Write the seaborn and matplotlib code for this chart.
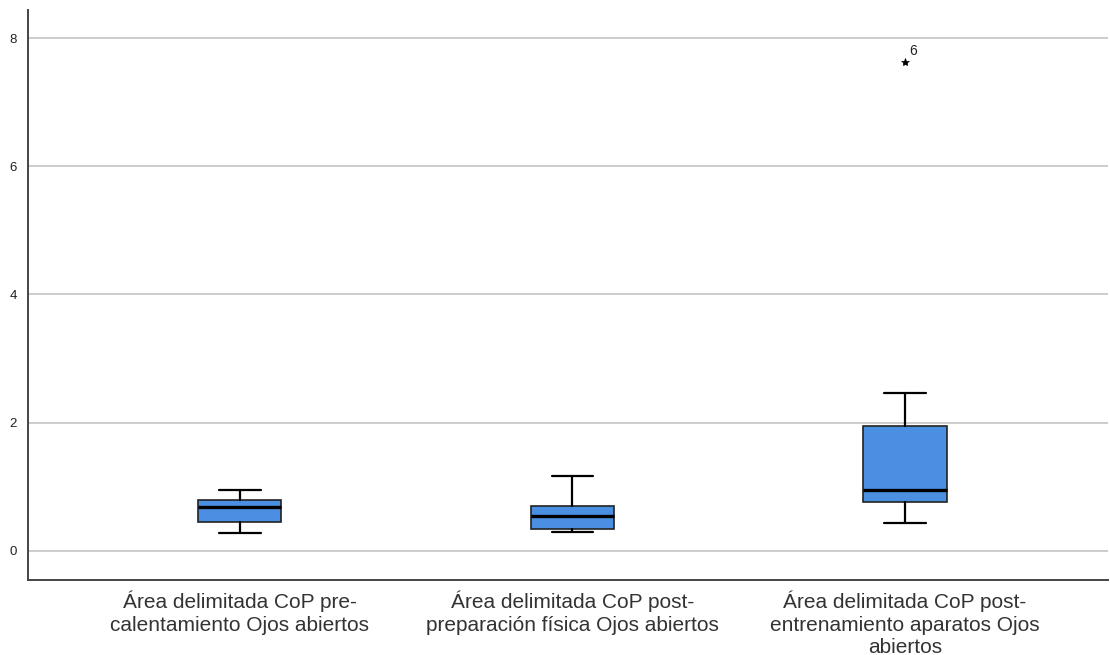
import matplotlib
matplotlib.use("Agg")
import matplotlib.pyplot as plt
import seaborn as sns

# box summary values (SPSS style boxplot)
labels = [
    "Área delimitada CoP pre-\ncalentamiento Ojos abiertos",
    "Área delimitada CoP post-\npreparación física Ojos abiertos",
    "Área delimitada CoP post-\nentrenamiento aparatos Ojos\nabiertos",
]
whisker_low = [0.28, 0.30, 0.44]
q1 = [0.45, 0.34, 0.76]
median = [0.68, 0.55, 0.95]
q3 = [0.79, 0.70, 1.94]
whisker_high = [0.95, 1.17, 2.47]
outliers = [[], [], [7.62]]
outlier_ids = [[], [], ["6"]]

BOX_BLUE = "#4a8fe2"

sns.set_style("white")
plt.rcParams["font.family"] = ["Liberation Sans", "DejaVu Sans"]

stats = []
for i in range(len(labels)):
    stats.append({
        "whislo": whisker_low[i],
        "q1": q1[i],
        "med": median[i],
        "q3": q3[i],
        "whishi": whisker_high[i],
        "fliers": outliers[i],
    })

fig = plt.figure(figsize=(11.1, 6.55), dpi=100)
ax = fig.add_axes([0.025, 0.115, 0.973, 0.87])

positions = list(range(1, len(labels) + 1))
ax.bxp(
    stats,
    positions=positions,
    widths=0.25,
    patch_artist=True,
    boxprops=dict(facecolor=BOX_BLUE, edgecolor="#222222", linewidth=1.2),
    medianprops=dict(color="black", linewidth=2.4),
    whiskerprops=dict(color="black", linewidth=1.6),
    capprops=dict(color="black", linewidth=1.6),
    flierprops=dict(marker="*", markerfacecolor="black", markeredgecolor="black",
                    markersize=6, markeredgewidth=0.5),
    zorder=3,
)

for pos, vals, ids in zip(positions, outliers, outlier_ids):
    for v, name in zip(vals, ids):
        ax.annotate(name, (pos, v), xytext=(3, 5), textcoords="offset points",
                    fontsize=10, color="#222222")

ax.set_xlim(0.362, 3.61)
ax.set_ylim(-0.45, 8.44)
ax.set_yticks([0, 2, 4, 6, 8])
ax.set_xticks(positions)
ax.set_xticklabels(labels, fontsize=15, color="#333333", linespacing=1.22)
ax.tick_params(axis="y", labelsize=9.5, length=0, pad=8, colors="#222222")
ax.tick_params(axis="x", length=0, pad=8)
ax.yaxis.grid(True, color="#c8c8c8", linewidth=1.3)
ax.set_axisbelow(True)

for side in ["top", "right"]:
    ax.spines[side].set_visible(False)
for side in ["left", "bottom"]:
    ax.spines[side].set_color("#444444")
    ax.spines[side].set_linewidth(1.4)

fig.savefig("out.png", dpi=100)
